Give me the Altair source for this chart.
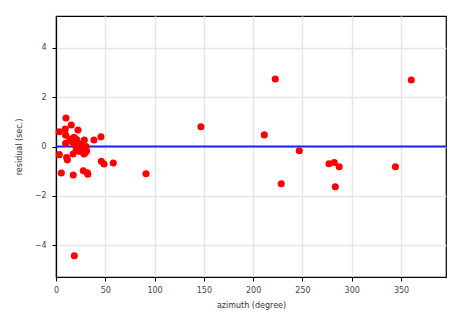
import altair as alt
import pandas as pd

azimuth = [10.1, 3.3, 9.4, 15.5, 9.8, 22.3, 18.3, 21.0, 28.7, 38.5, 45.6, 9.8,
           16.5, 19.5, 22.5, 25.0, 27.5, 30.5, 24.0, 20.5, 17.5, 14.0, 31.0, 26.5, 23.0, 29.5,
           3.3, 11.5, 10.8, 17.3, 28.4, 46.0, 48.7, 58.1, 5.4, 17.5, 27.7, 31.8, 32.3, 18.6,
           91.3, 147.0, 211.3, 222.4, 228.5, 246.8, 276.9, 282.3, 287.3, 283.3, 344.3, 360.4]
residual = [1.15, 0.60, 0.71, 0.87, 0.46, 0.67, 0.37, 0.28, 0.26, 0.26, 0.39, 0.13,
            0.20, 0.05, -0.05, 0.10, -0.10, 0.00, -0.20, -0.15, 0.15, 0.30, -0.18, -0.05, 0.08, -0.25,
            -0.33, -0.54, -0.45, -0.30, -0.30, -0.60, -0.71, -0.67, -1.07, -1.15, -0.98, -1.06, -1.12, -4.42,
            -1.10, 0.80, 0.47, 2.73, -1.51, -0.17, -0.70, -0.65, -0.82, -1.63, -0.82, 2.69]

df = pd.DataFrame({"azimuth": azimuth, "residual": residual})
zero = pd.DataFrame({"y": [0.0]})

FONT = "DejaVu Sans"

xscale = alt.Scale(domain=[0, 395.6], nice=False, zero=False)
yscale = alt.Scale(domain=[-5.28, 5.28], nice=False, zero=False)

axis_common = dict(
    domainColor="black", domainWidth=1.2, tickColor="black", tickSize=4,
    gridColor="#e6e6e6", gridWidth=1.5, labelFont=FONT, labelFontSize=8,
    labelColor="#444444", titleFont=FONT, titleFontSize=8, titleColor="#333333",
    titleFontWeight="normal",
)

points = alt.Chart(df).mark_circle(size=50, color="red", opacity=1).encode(
    x=alt.X("azimuth:Q", scale=xscale,
            axis=alt.Axis(title="azimuth (degree)", values=[0, 50, 100, 150, 200, 250, 300, 350],
                          labelPadding=5, labelFlush=False, titlePadding=7, **axis_common)),
    y=alt.Y("residual:Q", scale=yscale,
            axis=alt.Axis(title="residual (sec.)", values=[-4, -2, 0, 2, 4],
                          labelPadding=6, labelFlush=False, titlePadding=11, **axis_common)),
)

line = alt.Chart(zero).mark_rule(color="#2020ff", strokeWidth=1.8).encode(
    y=alt.Y("y:Q", scale=yscale)
)

chart = alt.layer(line, points).properties(
    width=390, height=261,
    padding={"left": 56, "top": 16, "right": 19, "bottom": 38},
    autosize="none",
).configure_view(stroke="black", strokeWidth=1.2)

chart.save("out.html", embed_options={"renderer": "svg", "actions": False})
